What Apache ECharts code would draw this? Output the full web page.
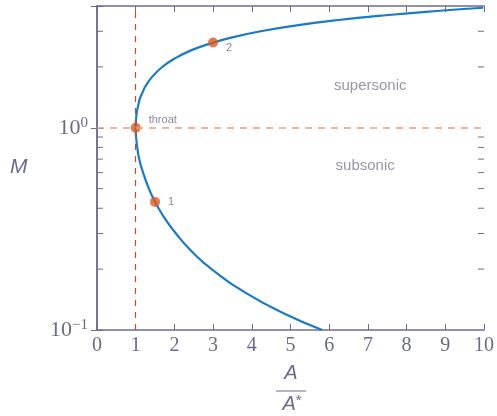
<!DOCTYPE html>
<html>
<head>
<meta charset="utf-8">
<script src="https://cdn.jsdelivr.net/npm/echarts@6/dist/echarts.min.js"></script>
<style>
  html, body { margin: 0; padding: 0; background: #fff; }
  #chart { width: 497px; height: 416px; }
</style>
</head>
<body>
<div id="chart"></div>
<script>
// area ratio A/A* and Mach number (bottom branch up to top branch)
const areaRatio = [5.82, 4.86, 3.91, 2.96, 2.40, 2.04, 1.78, 1.59, 1.50, 1.34, 1.19, 1.09, 1.04, 1.01, 1.00,
                   1.01, 1.03, 1.07, 1.11, 1.18, 1.25, 1.44, 1.69, 2.01, 2.40, 2.90, 3.50, 4.23, 5.12, 6.18, 7.45, 8.95, 9.98];
const machNum   = [0.10, 0.12, 0.15, 0.20, 0.25, 0.30, 0.35, 0.40, 0.43, 0.50, 0.60, 0.70, 0.80, 0.90, 1.00,
                   1.10, 1.20, 1.30, 1.40, 1.50, 1.60, 1.80, 2.00, 2.20, 2.40, 2.60, 2.80, 3.00, 3.20, 3.40, 3.60, 3.80, 3.92];

// marked points
const pointNames = ['1', 'throat', '2'];
const pointX = [1.5, 1.0, 3.0];
const pointM = [0.43, 1.0, 2.64];

// region labels
const regionNames = ['supersonic', 'subsonic'];
const regionX = [7.06, 6.93];
const regionM = [1.61, 0.648];

const xTicks = [0, 1, 2, 3, 4, 5, 6, 7, 8, 9, 10];
const minorTicks = [0.2, 0.3, 0.4, 0.5, 0.6, 0.7, 0.8, 0.9, 2, 3];

const axisColor = '#6c6c8c';
const textColor = '#6a6a8c';
const serif = 'Liberation Serif';

const chart = echarts.init(document.getElementById('chart'));

const curve = areaRatio.map((a, i) => [a, machNum[i]]);
const pts = pointNames.map((n, i) => ({ name: n, value: [pointX[i], pointM[i]] }));
const labelOffsets = { '1': [3, 0], 'throat': [3, -8], '2': [3, 5] };
pts.forEach(p => {
  p.label = { show: true, position: 'right', offset: labelOffsets[p.name], formatter: p.name };
});

const option = {
  animation: false,
  grid: { left: 97, right: 12, top: 6, bottom: 86 },
  xAxis: [
    {
      type: 'value', min: 0, max: 10, interval: 1,
      axisLine: { lineStyle: { color: axisColor, width: 1.5 } },
      axisTick: { inside: true, length: 6, lineStyle: { color: axisColor } },
      axisLabel: { color: textColor, fontFamily: serif, fontSize: 20, margin: 6,
        formatter: v => xTicks.includes(v) ? String(v) : '' },
      splitLine: { show: false }
    },
    {
      type: 'value', min: 0, max: 10, interval: 1, position: 'top',
      axisLine: { lineStyle: { color: axisColor, width: 1.5 } },
      axisTick: { inside: true, length: 6, lineStyle: { color: axisColor } },
      axisLabel: { show: false },
      splitLine: { show: false }
    }
  ],
  yAxis: [
    {
      type: 'log', logBase: 10, min: 0.1, max: 4,
      axisLine: { show: true, lineStyle: { color: axisColor, width: 1.5 } },
      axisTick: { inside: true, length: 6, lineStyle: { color: axisColor } },
      axisLabel: {
        color: textColor, fontFamily: serif, margin: 9,
        formatter: v => {
          if (Math.abs(v - 0.1) < 1e-9) return '{b|10}{s|\u22121}';
          if (Math.abs(v - 1) < 1e-9) return '{b|10}{s|0}';
          return '';
        },
        rich: {
          b: { fontSize: 22, fontFamily: serif, color: textColor, lineHeight: 24 },
          s: { fontSize: 15, fontFamily: serif, color: textColor, verticalAlign: 'top', lineHeight: 15 }
        }
      },
      splitLine: { show: false }
    },
    {
      type: 'log', logBase: 10, min: 0.1, max: 4, position: 'right',
      axisLine: { show: true, lineStyle: { color: axisColor, width: 1.5 } },
      axisTick: { inside: true, length: 6, lineStyle: { color: axisColor } },
      axisLabel: { show: false },
      splitLine: { show: false }
    }
  ],
  series: [
    {
      // minor log ticks on left and right axes
      type: 'custom',
      silent: true,
      data: minorTicks.map(v => [0, v]),
      renderItem: (params, api) => {
        const v = api.value(1);
        const l = api.coord([0, v]);
        const r = api.coord([10, v]);
        const style = { stroke: axisColor, lineWidth: 1 };
        return {
          type: 'group',
          children: [
            { type: 'line', shape: { x1: l[0], y1: l[1], x2: l[0] + 6, y2: l[1] }, style },
            { type: 'line', shape: { x1: r[0], y1: r[1], x2: r[0] - 6, y2: r[1] }, style }
          ]
        };
      },
      z: 1
    },
    {
      type: 'line',
      data: [],
      silent: true,
      markLine: {
        symbol: 'none',
        silent: true,
        label: { show: false },
        data: [
          { xAxis: 1, lineStyle: { color: '#c4502a', type: [6, 6], width: 1.2 } },
          { yAxis: 1, lineStyle: { color: '#ee9c78', type: [7, 6], width: 1.5 } }
        ]
      }
    },
    {
      type: 'line',
      data: curve,
      smooth: 0.5,
      showSymbol: false,
      lineStyle: { color: '#1a7bc4', width: 2.2 },
      z: 3
    },
    {
      type: 'scatter',
      data: pts,
      symbolSize: 10,
      itemStyle: { color: '#dc5a20' },
      label: { color: textColor, fontSize: 11, fontFamily: 'Liberation Sans' },
      z: 4
    },
    {
      type: 'scatter',
      data: regionNames.map((n, i) => ({ name: n, value: [regionX[i], regionM[i]] })),
      symbolSize: 0,
      label: { show: true, position: 'inside', formatter: p => p.name,
        color: '#7a7a96', fontSize: 15, fontFamily: 'Liberation Sans' },
      z: 4
    }
  ],
  graphic: [
    { type: 'text', left: 10, top: 157,
      style: { text: 'M', font: 'italic 21px "Liberation Sans"', fill: textColor } },
    { type: 'text', x: 291, y: 373,
      style: { text: 'A', font: 'italic 20px "Liberation Sans"', fill: textColor, align: 'center', verticalAlign: 'middle' } },
    { type: 'line', shape: { x1: 276, y1: 391, x2: 306, y2: 391 }, style: { stroke: textColor, lineWidth: 1 } },
    { type: 'text', x: 292, y: 404,
      style: { text: '{a|A}{s|*}', align: 'center', verticalAlign: 'middle',
        rich: {
          a: { font: 'italic 20px "Liberation Sans"', fill: textColor, lineHeight: 22 },
          s: { font: '15px "Liberation Sans"', fill: textColor, verticalAlign: 'top', lineHeight: 14 }
        } } }
  ]
};

chart.setOption(option);
</script>
</body>
</html>
